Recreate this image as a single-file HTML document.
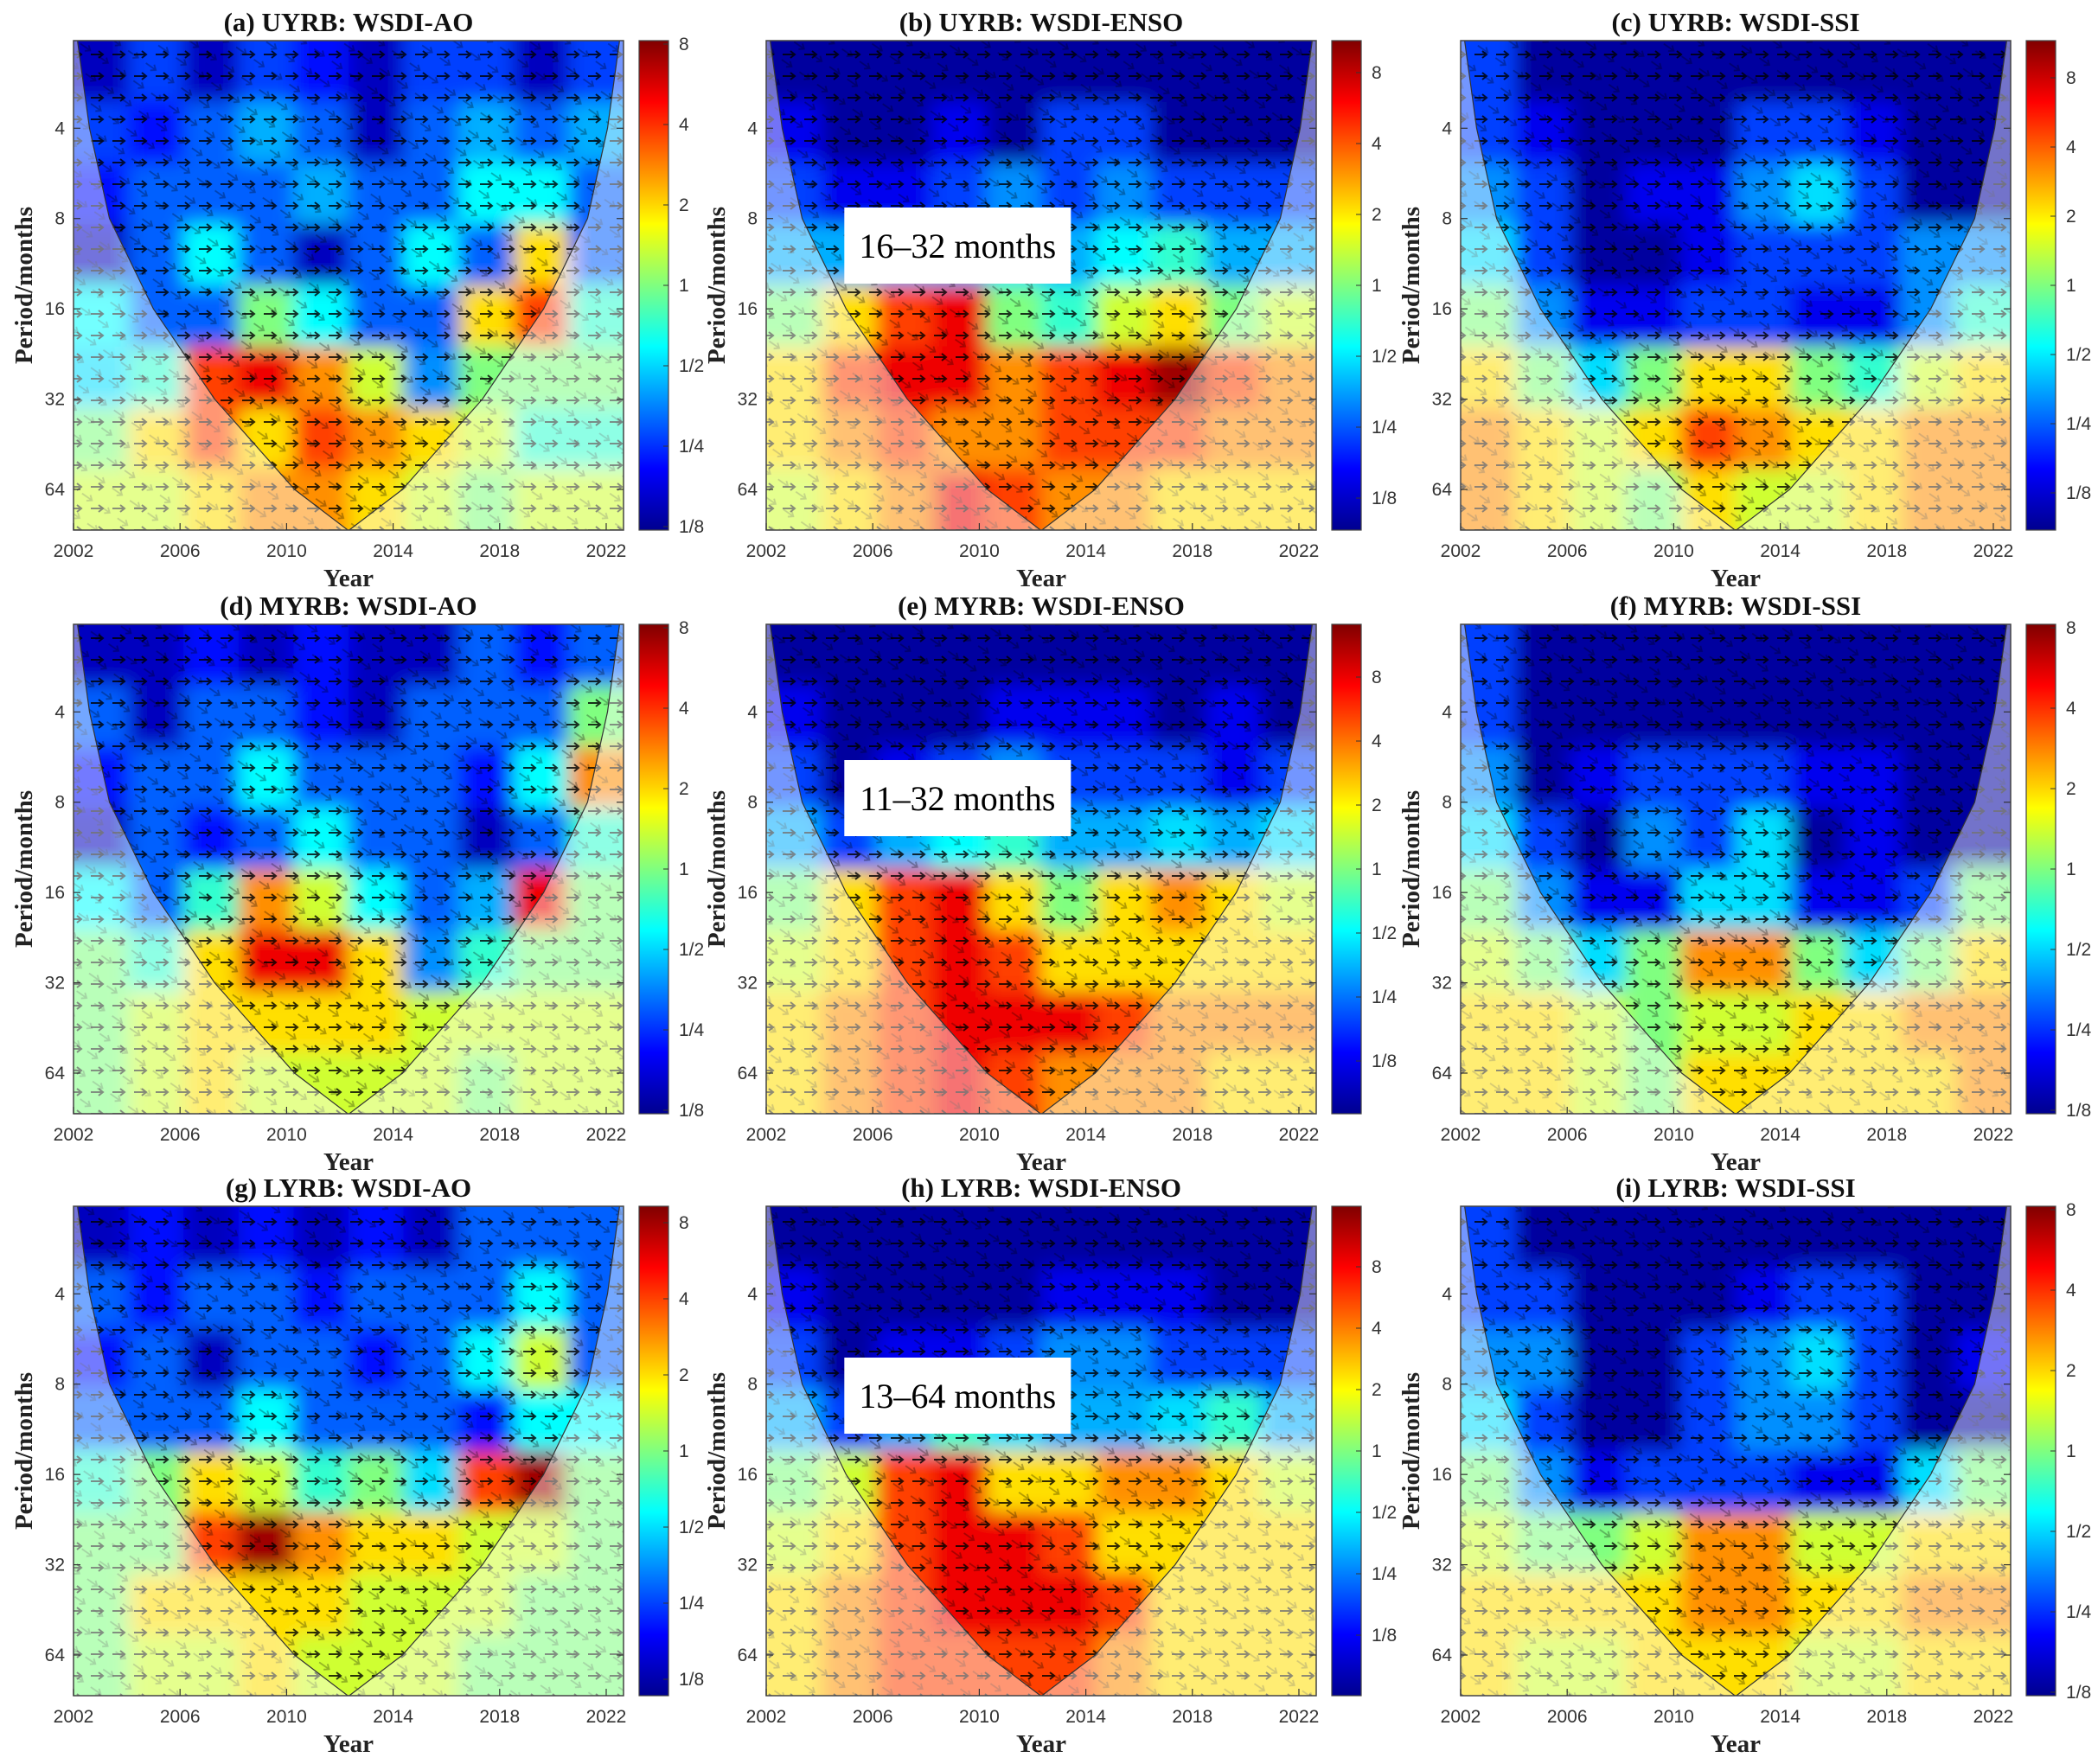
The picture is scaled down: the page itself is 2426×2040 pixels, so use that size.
<!DOCTYPE html>
<html><head><meta charset="utf-8">
<style>
html,body{margin:0;padding:0;background:#fff;}
svg{display:block;}
text{font-family:"Liberation Serif",serif;}
.tk{font-family:"Liberation Sans",sans-serif;font-size:21px;fill:#333;}
.tt{font-size:31px;font-weight:bold;fill:#111;}
.ax{font-size:29px;font-weight:bold;fill:#222;}
</style></head>
<body>
<svg id="fig" width="2426" height="2040" viewBox="0 0 2426 2040" xmlns="http://www.w3.org/2000/svg">
<defs>
<pattern id="arr" width="25" height="25" patternUnits="userSpaceOnUse">
<path d="M5 13 L19 13 M14 9 L19 13 L14 17" stroke="#000" stroke-width="2" fill="none"/>
</pattern>
<pattern id="arr2" width="25" height="25" patternUnits="userSpaceOnUse" patternTransform="rotate(35)">
<path d="M5 13 L19 13 M14 9 L19 13 L14 17" stroke="#000" stroke-width="1.8" fill="none"/>
</pattern>
<filter id="bl" x="-5%" y="-5%" width="110%" height="110%"><feGaussianBlur stdDeviation="11"/></filter>
<linearGradient id="jet" x1="0" y1="1" x2="0" y2="0">
<stop offset="0" stop-color="#00008f"/><stop offset="0.125" stop-color="#0000ff"/>
<stop offset="0.375" stop-color="#00ffff"/><stop offset="0.625" stop-color="#ffff00"/>
<stop offset="0.875" stop-color="#ff0000"/><stop offset="1" stop-color="#800000"/>
</linearGradient>
</defs>
</svg>
<script>
// ---- data (log2 coherence-power values, rows top(short period) -> bottom(long period), cols 2002 -> 2022) ----
const years = [2002, 2006, 2010, 2014, 2018, 2022];
const periods = [4, 8, 16, 32, 64];
const titles = ["(a) UYRB: WSDI-AO","(b) UYRB: WSDI-ENSO","(c) UYRB: WSDI-SSI","(d) MYRB: WSDI-AO","(e) MYRB: WSDI-ENSO","(f) MYRB: WSDI-SSI","(g) LYRB: WSDI-AO","(h) LYRB: WSDI-ENSO","(i) LYRB: WSDI-SSI"];
const cbarLabels = ["8","4","2","1","1/2","1/4","1/8"];
const notes = [null,"16–32 months",null,null,"11–32 months",null,null,"13–64 months",null];
const gridA = [[-2.8,-2,-2.8,-2,-2.3,-2.8,-2,-2,-2.8,-2],[-2,-2.3,-1.8,-1.3,-1.8,-2.8,-1.8,-1.3,-1.8,-1.3],[-2.3,-1.8,-1.8,-1.8,-1.3,-1.8,-1.8,-0.8,-0.8,-1.8],[-2.8,-1.8,-0.8,-1.8,-2.8,-1.8,-0.8,-1.8,1,-1.8],[-0.8,-1.8,-1.8,0,-0.8,-1.8,-1.8,1,2,-0.5],[-1,-0.5,2,2.5,1.5,0.5,-1.5,0,0,0],[0,1,2,1,2,1.5,1,0.5,-0.5,-0.5],[0.5,0.5,1,1.5,1.5,1,0.5,0,0.5,0.5]];
const gridB = [[-3,-3,-3,-3,-3,-3,-3,-3,-3,-3],[-2.5,-3,-3,-2.5,-3,-2,-2,-3,-3,-3],[-2,-2.5,-2.5,-2,-1.5,-2,-1.5,-2,-2,-2],[-1.3,-1.3,-1.3,-1.3,-1,-1.3,-0.8,-0.5,-1.3,-1.3],[0,1,2,2.5,0,-0.5,0.5,1,0,0.5],[1,2,2.5,2.5,1.5,2,2.5,3,2,1.5],[1,1.5,2,1.5,1.5,2,2,2,1.5,1.5],[0.5,1,1.5,2.5,2,1.5,1.5,1,1,1]];
const gridC = [[-2,-3,-3,-3,-3,-3,-3,-3,-3,-3],[-2,-2.5,-3,-3,-3,-2,-2,-2.5,-3,-3],[-1.5,-2,-3,-2.5,-2.5,-1.5,-1,-2,-3,-3],[-1,-2,-3,-3,-2.5,-2,-2,-2,-1.5,-1.5],[0,-1.5,-2.5,-2.5,-2,-2,-2.5,-2.5,-1.5,-0.5],[1,0,-1,0,1,1,0,-0.5,0.5,1],[1.5,1,0.5,1,2,1.5,1,1,1.5,1.5],[1.5,1,0.5,0,1,0.5,0.5,1,1.5,1.5]];
const gridD = [[-2.8,-2.8,-2.3,-2.8,-2.3,-2.8,-2.8,-1.8,-2.3,-1.8],[-1.8,-2.8,-1.8,-1.8,-2.3,-2.8,-1.8,-1.8,-1.8,0],[-2.3,-1.8,-1.8,-0.8,-1.8,-1.8,-1.8,-2.3,-0.8,1.5],[-2.8,-1.8,-2.3,-1.8,-0.8,-1.8,-1.8,-2.8,-1.8,-0.5],[-0.8,-1.8,-0.5,1.5,0.5,-0.8,-1.8,-1.3,2.5,0],[0,-0.5,1,2.5,2.5,1,-1.5,-0.5,0,0],[0,0.5,1,1,1,1,0.5,0.5,0.5,0.5],[0,0.5,1,0.5,0.5,0.5,0.5,0,0.5,0.5]];
const gridE = [[-3,-3,-3,-3,-3,-3,-3,-3,-3,-3],[-2.5,-3,-3,-3,-2.5,-2.5,-2.5,-3,-2.5,-3],[-2,-3,-2.5,-2,-1.5,-2,-2,-2,-2.5,-2],[-1.3,-2,-1.3,-0.8,-0.5,-1.3,-1.3,-1,-1.3,-1],[0,1,2,2.5,1,0,1,1.5,1,0.5],[0.5,1,2,2.5,2,1,1,1,1,1],[1,1.5,2,2.5,2.5,2.5,2,1.5,1.5,1.5],[1,1.5,2,2.5,2,1.5,1.5,1.5,1,1]];
const gridF = [[-2,-3,-3,-3,-3,-3,-3,-3,-3,-3],[-2,-3,-3,-3,-3,-3,-3,-3,-3,-3],[-1.5,-3,-2.5,-2,-2,-2,-2.5,-2.5,-3,-3],[-1,-2,-3,-1.5,-2,-1,-3,-2.5,-3,-3],[0,-1.5,-2.5,-2.5,-1,-1,-2.5,-2.5,-2,0],[0.5,0,-1,0,1.5,1.5,0,-1,0,1],[1,1,0.5,0,0.5,0.5,1,1,1.5,1.5],[1,1,0.5,0,1,1,1,1,1,1.5]];
const gridG = [[-2.8,-2.3,-2.8,-2.3,-2.8,-2.3,-2.8,-1.8,-1.8,-1.8],[-1.8,-2.3,-1.8,-1.8,-2.3,-1.8,-1.8,-1.8,-0.8,-1.8],[-2.3,-1.8,-2.8,-1.8,-1.8,-2.3,-1.8,-0.8,0.5,-1.8],[-1.8,-1.8,-1.8,-0.8,-1.8,-1.8,-1.8,-2.3,-0.8,-0.8],[-0.5,0,1,0.5,-0.5,0,-1,2,3,0],[0,0,2,3,1.5,1,1,0.5,0.5,0],[0,1,1,1,1,0.5,0.5,0.5,0,0],[0,0.5,0.5,1,0.5,0.5,0.5,0,0,0]];
const gridH = [[-3,-3,-3,-3,-3,-3,-3,-3,-3,-3],[-2.5,-3,-3,-3,-3,-2.5,-2.5,-2.5,-3,-3],[-2,-3,-2.5,-2.5,-2,-1.5,-1.5,-2,-2,-2],[-1.3,-2,-1.3,-0.5,-1,-1.3,-1.3,-1,-0.5,-1.3],[0,0.5,2,2.5,1,1,1.5,1.5,1,0.5],[0.5,1,2,2.5,2.5,2,1,1,1,1],[1,1.5,2,2.5,2.5,2.5,2,1,1,1],[1,1.5,2,2,2,2,1.5,1,1,1]];
const gridI = [[-2,-3,-3,-3,-3,-3,-3,-3,-3,-3],[-2,-2,-3,-3,-3,-2.5,-2,-2,-3,-3],[-1.5,-1.5,-3,-3,-2,-1.5,-1,-2,-3,-2.5],[-1,-2,-3,-3,-2,-1.5,-1.5,-2,-3,-3],[0,-1.5,-2.5,-2,-2,-2,-2.5,-2.5,-1,0],[0.5,0,0,0.5,1.5,1.5,0.5,0.5,1,1],[1,1,1,1,1.5,1.5,1,1,1.5,1.5],[1,0.5,0.5,1,1,1,0.5,0.5,1,1]];
const grids = [gridA,gridB,gridC,gridD,gridE,gridF,gridG,gridH,gridI];
const cbarSpacing = [93,82,80,93,74,93,88,71,93];

const NS="http://www.w3.org/2000/svg";
const svg=document.getElementById('fig');
function mk(tag,attrs,parent){const e=document.createElementNS(NS,tag);for(const k in attrs)e.setAttribute(k,attrs[k]);(parent||svg).appendChild(e);return e;}
function jet(t){t=Math.max(0,Math.min(1,t));const c=v=>Math.round(255*Math.max(0,Math.min(1,v)));
 const r=1.5-Math.abs(4*t-3),g=1.5-Math.abs(4*t-2),b=1.5-Math.abs(4*t-1);return `rgb(${c(r)},${c(g)},${c(b)})`;}

const colX=[85,886,1689], rowY=[47,722,1395], W=636, H=566;
const Y0=2002, Y1=2022.65, L0=1.03, L1=6.45;
// COI in (year-offset, period) pairs
const coiP=[2,4,8,16,32,64,88];
const coiD=[0.15,0.6,1.35,3.0,5.3,8.3,10.3];

for(let k=0;k<9;k++){
 const x0=colX[k%3], y0=rowY[Math.floor(k/3)];
 const xs=yr=>x0+(yr-Y0)/(Y1-Y0)*W;
 const ys=p=>y0+(Math.log2(p)-L0)/(L1-L0)*H;
 const g=mk('g',{});
 
 
 const cid='clip'+k;
 const cp=mk('clipPath',{id:cid},g); mk('rect',{x:x0,y:y0,width:W,height:H},cp);
 const hg=mk('g',{'clip-path':`url(#${cid})`},g);
 const hm=mk('g',{filter:'url(#bl)'},hg);
 
 
 const grid=grids[k], nr=grid.length, nc=grid[0].length;
 const cw=W/nc, ch=H/nr;
 for(let r=0;r<nr;r++)for(let c=0;c<nc;c++){
  let x=x0+c*cw, y=y0+r*ch, w=cw+1, h=ch+1;
  if(c===0){x-=40;w+=40;} if(c===nc-1){w+=40;}
  if(r===0){y-=40;h+=40;} if(r===nr-1){h+=40;}
  const cell=mk('rect',{x:x,y:y,width:w,height:h,fill:jet((grid[r][c]+3.2)/6.4)},hm);
  
  
 }
 mk('rect',{x:x0,y:y0,width:W,height:H,fill:'url(#arr)',opacity:0.8},hg);
 mk('rect',{x:x0,y:y0,width:W,height:H,fill:'url(#arr2)',opacity:0.3},hg);
 // cone of influence
 const cx=xs(2012.33);
 let left=[],right=[];
 for(let i=0;i<coiP.length;i++){
  const py=Math.min(ys(coiP[i]),y0+H);
  left.push([xs(Y0+coiD[i]),py]); right.unshift([xs(Y1-coiD[i]),py]);
 }
 left[0][1]=y0; right[right.length-1][1]=y0;
 const pts=left.concat([[cx,y0+H]]).concat(right);
 let dC='M'+pts.map(p=>p[0].toFixed(1)+' '+p[1].toFixed(1)).join(' L')+' Z';
 const outside=`M${x0} ${y0} H${x0+W} V${y0+H} H${x0} Z `+dC;
 const ov=mk('path',{d:outside,'fill-rule':'evenodd',fill:'#fff',opacity:0.45,'clip-path':`url(#${cid})`},g);
 
 
 mk('path',{d:'M'+pts.map(p=>p[0].toFixed(1)+' '+p[1].toFixed(1)).join(' L'),fill:'none',stroke:'#333','stroke-width':1.2,'clip-path':`url(#${cid})`},g);
 mk('rect',{x:x0,y:y0,width:W,height:H,fill:'none',stroke:'#444','stroke-width':1.5},g);
 periods.forEach(p=>{const y=ys(p);
  mk('line',{x1:x0,x2:x0+8,y1:y,y2:y,stroke:'#333','stroke-width':1.2},g);
  mk('line',{x1:x0+W,x2:x0+W-8,y1:y,y2:y,stroke:'#333','stroke-width':1.2},g);
  const t=mk('text',{x:x0-10,y:y+7,'text-anchor':'end',class:'tk'},g);t.textContent=p;
  
  });
 years.forEach(yr=>{const x=xs(yr);
  mk('line',{x1:x,x2:x,y1:y0+H,y2:y0+H-8,stroke:'#333','stroke-width':1.2},g);
  const t=mk('text',{x:x,y:y0+H+31,'text-anchor':'middle',class:'tk'},g);t.textContent=yr;
  
  });
 const tt=mk('text',{x:x0+W/2,y:y0-11,'text-anchor':'middle',class:'tt'},g);tt.textContent=titles[k];
 
 
 const xl=mk('text',{x:x0+W*0.5,y:y0+H+65,'text-anchor':'middle',class:'ax'},g);xl.textContent='Year';
 
 
 const yl=mk('text',{x:0,y:0,'text-anchor':'middle',class:'ax',transform:`translate(${x0-48},${y0+H/2}) rotate(-90)`},g);yl.textContent='Period/months';
 
 
 const bx=x0+654;
 const cb=mk('rect',{x:bx,y:y0,width:34,height:H,fill:'url(#jet)',stroke:'#444','stroke-width':1.2},g);
 
 
 const mid=y0+H/2, sp=cbarSpacing[k];
 cbarLabels.forEach((lab,i)=>{const y=mid+(i-3)*sp;
  mk('line',{x1:bx+34,x2:bx+28,y1:y,y2:y,stroke:'#333'},g);
  const t=mk('text',{x:bx+46,y:y+7,class:'tk'},g);t.textContent=lab;
  
  });
 if(notes[k]){
  const bxx=x0+W*0.142, byy=y0+(k===1?193:(k===4?157:175));
  const nb=mk('rect',{x:bxx,y:byy,width:262,height:88,fill:'#fff'},g);
  
  
  const nt=mk('text',{x:bxx+131,y:byy+58,'text-anchor':'middle','font-size':40,fill:'#000'},g);nt.textContent=notes[k];
  
  
 }
}
</script>
</body></html>
